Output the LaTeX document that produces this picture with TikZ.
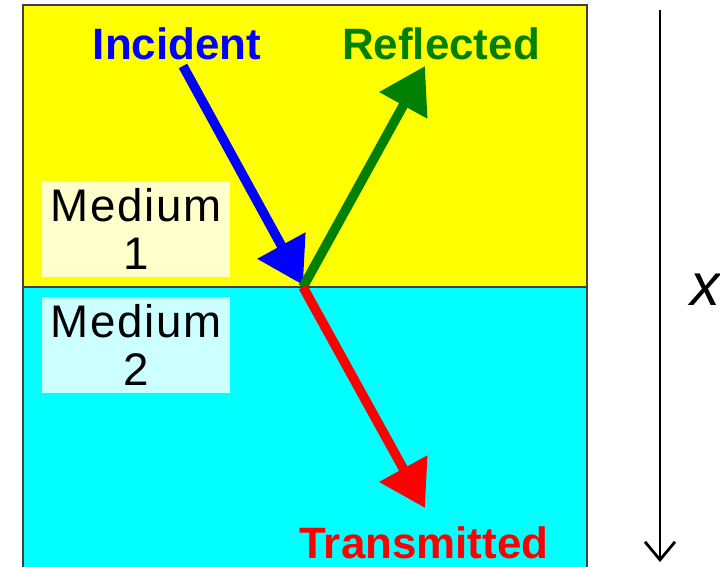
\documentclass[tikz,border=0pt]{standalone}
\usepackage{fontspec}
\setmainfont{Liberation Sans}
\usetikzlibrary{arrows.meta}
\definecolor{bgyellow}{HTML}{FFFF00}
\definecolor{bgcyan}{HTML}{00FFFF}
\definecolor{paleyellow}{HTML}{FFFFCC}
\definecolor{palecyan}{HTML}{CCFFFF}
\definecolor{darkgreen}{HTML}{008000}
\definecolor{rayblue}{HTML}{0000FF}
\definecolor{rayred}{HTML}{FF0000}
\begin{document}
\begin{tikzpicture}[
x=0.02cm,y=-0.02cm,
ray/.style={
  line width=0.19cm,
  -{Triangle[length=0.9cm,width=1.05cm]}},
raylabel/.style={
  font=\fontsize{25}{28}\selectfont\bfseries,
  inner sep=0pt},
mediumbox/.style={
  minimum width=3.76cm,
  minimum height=1.92cm,
  inner sep=0pt,
  align=center,
  font=\fontsize{26}{27.5}\selectfont\addfontfeatures{LetterSpace=4}}
]
\useasboundingbox (0,0) rectangle (720,567);
\fill[bgyellow] (23,5) rectangle (587,287);
\fill[bgcyan] (23,287) rectangle (587,567);
\draw[black!75,line width=0.8pt]
  (23,567) -- (23,5) -- (587,5) -- (587,567);
\draw[black!75,line width=0.8pt] (23,287) -- (587,287);
% media
\node[mediumbox,fill=paleyellow] (M1) at (136,229) {Medium\\1};
\node[mediumbox,fill=palecyan] (M2) at (136,345) {Medium\\2};
% rays
\coordinate (P) at (303,287);
\coordinate (Iin) at (183,66);
\coordinate (Rout) at (425,66);
\coordinate (Tout) at (425,508);
\node[raylabel,text=rayblue] (inc) at (177,44) {Incident};
\node[raylabel,text=darkgreen] (refl) at (441,44) {Reflected};
\node[raylabel,text=rayred] (trans) at (424,543) {Transmitted};
\draw[ray,rayblue] (Iin) -- (303,285);
\draw[ray,darkgreen] (P) -- (Rout);
\draw[ray,rayred] (P) -- (Tout);
% depth axis
\coordinate (A0) at (660,10);
\coordinate (A1) at (660,562);
\draw[line width=1.6pt,-{Straight Barb[length=0.36cm,width=0.6cm]}] (A0) -- (A1);
\node[font=\fontsize{34}{36}\selectfont\itshape,inner sep=0pt] (xlab) at (705,290) {x};
\end{tikzpicture}
\end{document}
